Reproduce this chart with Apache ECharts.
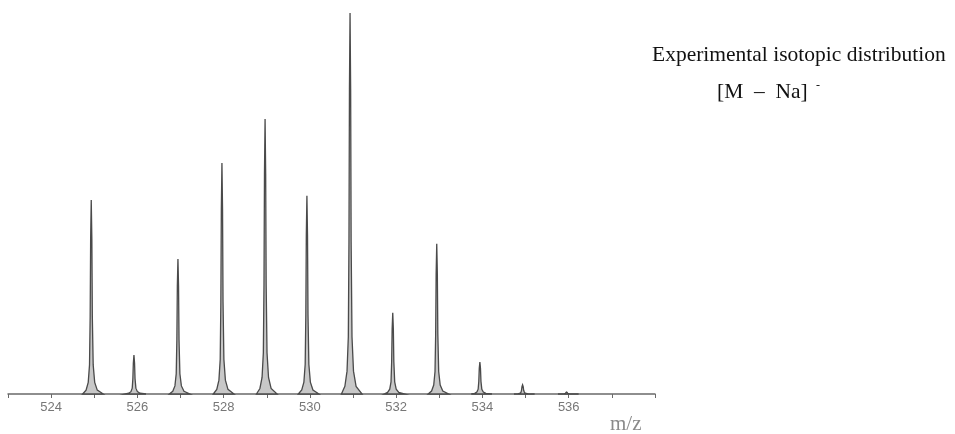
<!DOCTYPE html>
<html>
<head>
<meta charset="utf-8">
<script src="https://cdn.jsdelivr.net/npm/echarts@6/dist/echarts.min.js"></script>
<style>
  html, body { margin: 0; padding: 0; background: #fff; }
  #chart { width: 955px; height: 434px; }
</style>
</head>
<body>
<div id="chart"></div>
<script>
// peak centroids (m/z) and relative intensities (%)
const peakMz = [524.93, 525.92, 526.94, 527.96, 528.96, 529.93, 530.93, 531.92, 532.94, 533.94, 534.93, 535.95];
const peakInt = [50.9, 10.2, 35.4, 60.6, 72.2, 52.0, 100, 21.3, 39.4, 8.4, 2.4, 0.5];

// rough outline of one spike: [m/z offset, fraction of peak height]
const peakProfile = [
  [-0.2, 0], [-0.12, 0.02], [-0.07, 0.06], [-0.04, 0.15], [-0.025, 0.4], [-0.014, 0.8], [0, 1],
  [0.014, 0.8], [0.025, 0.4], [0.045, 0.15], [0.08, 0.06], [0.14, 0.02], [0.28, 0]
];

const chart = echarts.init(document.getElementById("chart"));

chart.setOption({
  animation: false,
  grid: { left: 8, right: 300, top: 13, bottom: 40 },
  xAxis: {
    type: "value",
    min: 523,
    max: 538,
    interval: 1,
    splitLine: { show: false },
    axisLine: { lineStyle: { color: "#6a6a6a", width: 1.5 } },
    axisTick: { length: 4, lineStyle: { color: "#6a6a6a" } },
    axisLabel: {
      margin: 7,
      color: "#777",
      fontFamily: "Liberation Sans",
      fontSize: 13,
      formatter: (v) => (v % 2 === 0 && v < 538 ? String(v) : "")
    }
  },
  yAxis: { type: "value", min: 0, max: 100, show: false },
  graphic: [
    {
      type: "text", left: 652, top: 44,
      style: { text: "Experimental isotopic distribution", font: "21.5px 'Liberation Serif'", fill: "#111" }
    },
    {
      type: "text", left: 717, top: 81,
      style: { text: "[M  –  Na]", font: "21.5px 'Liberation Serif'", fill: "#111" }
    },
    {
      type: "text", left: 816, top: 80,
      style: { text: "-", font: "12px 'Liberation Serif'", fill: "#111" }
    },
    {
      type: "text", left: 610, top: 414,
      style: { text: "m/z", font: "21px 'Liberation Serif'", fill: "#8a8a8a" }
    }
  ],
  series: [
    {
      type: "custom",
      data: peakMz.map((m, i) => [m, peakInt[i]]),
      renderItem: (params, api) => {
        const m = api.value(0);
        const h = api.value(1);
        const pts = peakProfile.map((p) => api.coord([m + p[0], h * p[1]]));
        return {
          type: "polygon",
          shape: { points: pts },
          style: { fill: "#c8c8c8", stroke: "#4a4a4a", lineWidth: 1.3 }
        };
      }
    }
  ]
});
</script>
</body>
</html>
